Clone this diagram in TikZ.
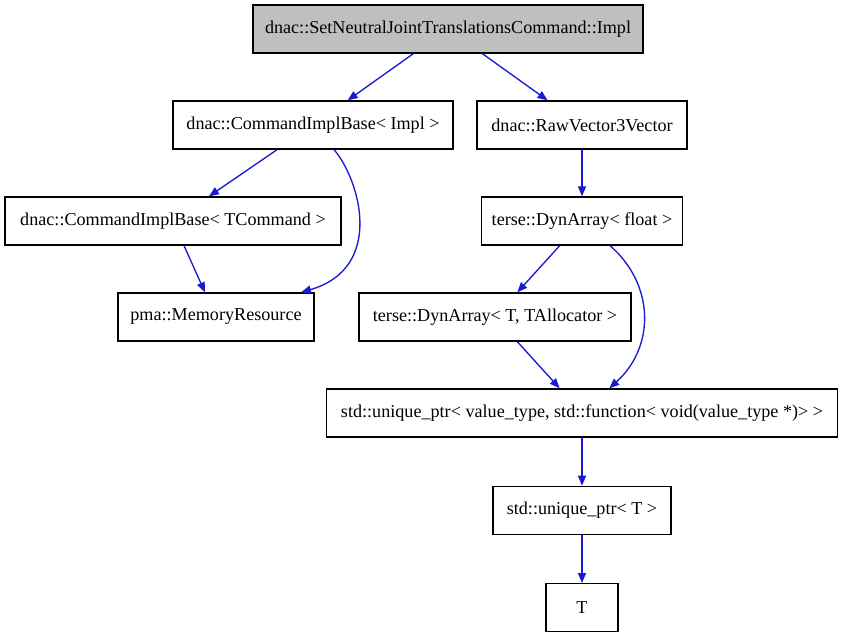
\documentclass[tikz,border=0pt]{standalone}
\usepackage{fontspec}
\setmainfont{Liberation Serif}
\usetikzlibrary{positioning,arrows.meta}
\definecolor{edgeblue}{RGB}{25,25,210}
\definecolor{rootgray}{RGB}{191,191,191}

\begin{document}
\begin{tikzpicture}[x=0.75pt, y=-0.75pt, node distance=36pt, every node/.style={font=\fontsize{13.6}{16}\selectfont}]
  \tikzset{
    cls/.style={draw, line width=1pt, minimum height=36pt, inner sep=0pt, align=center},
    root/.style={cls, fill=rootgray},
    dep/.style={-{Triangle[length=7.5pt,width=6pt]}, line width=1pt, draw=edgeblue}
  }
  \useasboundingbox (0,0) rectangle (845,635);
  \node[root, minimum width=292.5pt] (impl)    at (448,29)  {dnac::SetNeutralJointTranslationsCommand::Impl};
  \node[cls,  minimum width=210pt]   (cibimpl) at (313,125) {dnac::CommandImplBase< Impl >};
  \node[cls,  minimum width=157.5pt] (rawvec)  at (582,125) {dnac::RawVector3Vector};
  \node[cls,  minimum width=252pt]   (cibcmd)  at (173,221) {dnac::CommandImplBase< TCommand >};
  \node[cls,  minimum width=150.75pt] (dynf)   at (582,221) {terse::DynArray< float >};
  \node[cls,  minimum width=147pt]   (memres)  at (216,317) {pma::MemoryResource};
  \node[cls,  minimum width=204pt]   (dynt)    at (495,317) {terse::DynArray< T, TAllocator >};
  \node[cls,  minimum width=383.25pt] (uptrfn) at (582,413) {std::unique\_ptr< value\_type, std::function< void(value\_type *)> >};
  \node[cls,  minimum width=133.5pt, below=of uptrfn] (uptrt) {std::unique\_ptr< T >};
  \node[cls,  minimum width=54pt, below=of uptrt] (tt) {T};

  \draw[dep] (impl) -- (cibimpl);
  \draw[dep] (impl) -- (rawvec);
  \draw[dep] (cibimpl) -- (cibcmd);
  \draw[dep] (cibimpl) .. controls (360,180) and (385,268) .. (memres);
  \draw[dep] (cibcmd) -- (memres);
  \draw[dep] (rawvec) -- (dynf);
  \draw[dep] (dynf) -- (dynt);
  \draw[dep] (dynf) .. controls (655,285) and (655,347) .. (uptrfn);
  \draw[dep] (dynt) -- (uptrfn);
  \draw[dep] (uptrfn) -- (uptrt);
  \draw[dep] (uptrt) -- (tt);
\end{tikzpicture}
\end{document}
